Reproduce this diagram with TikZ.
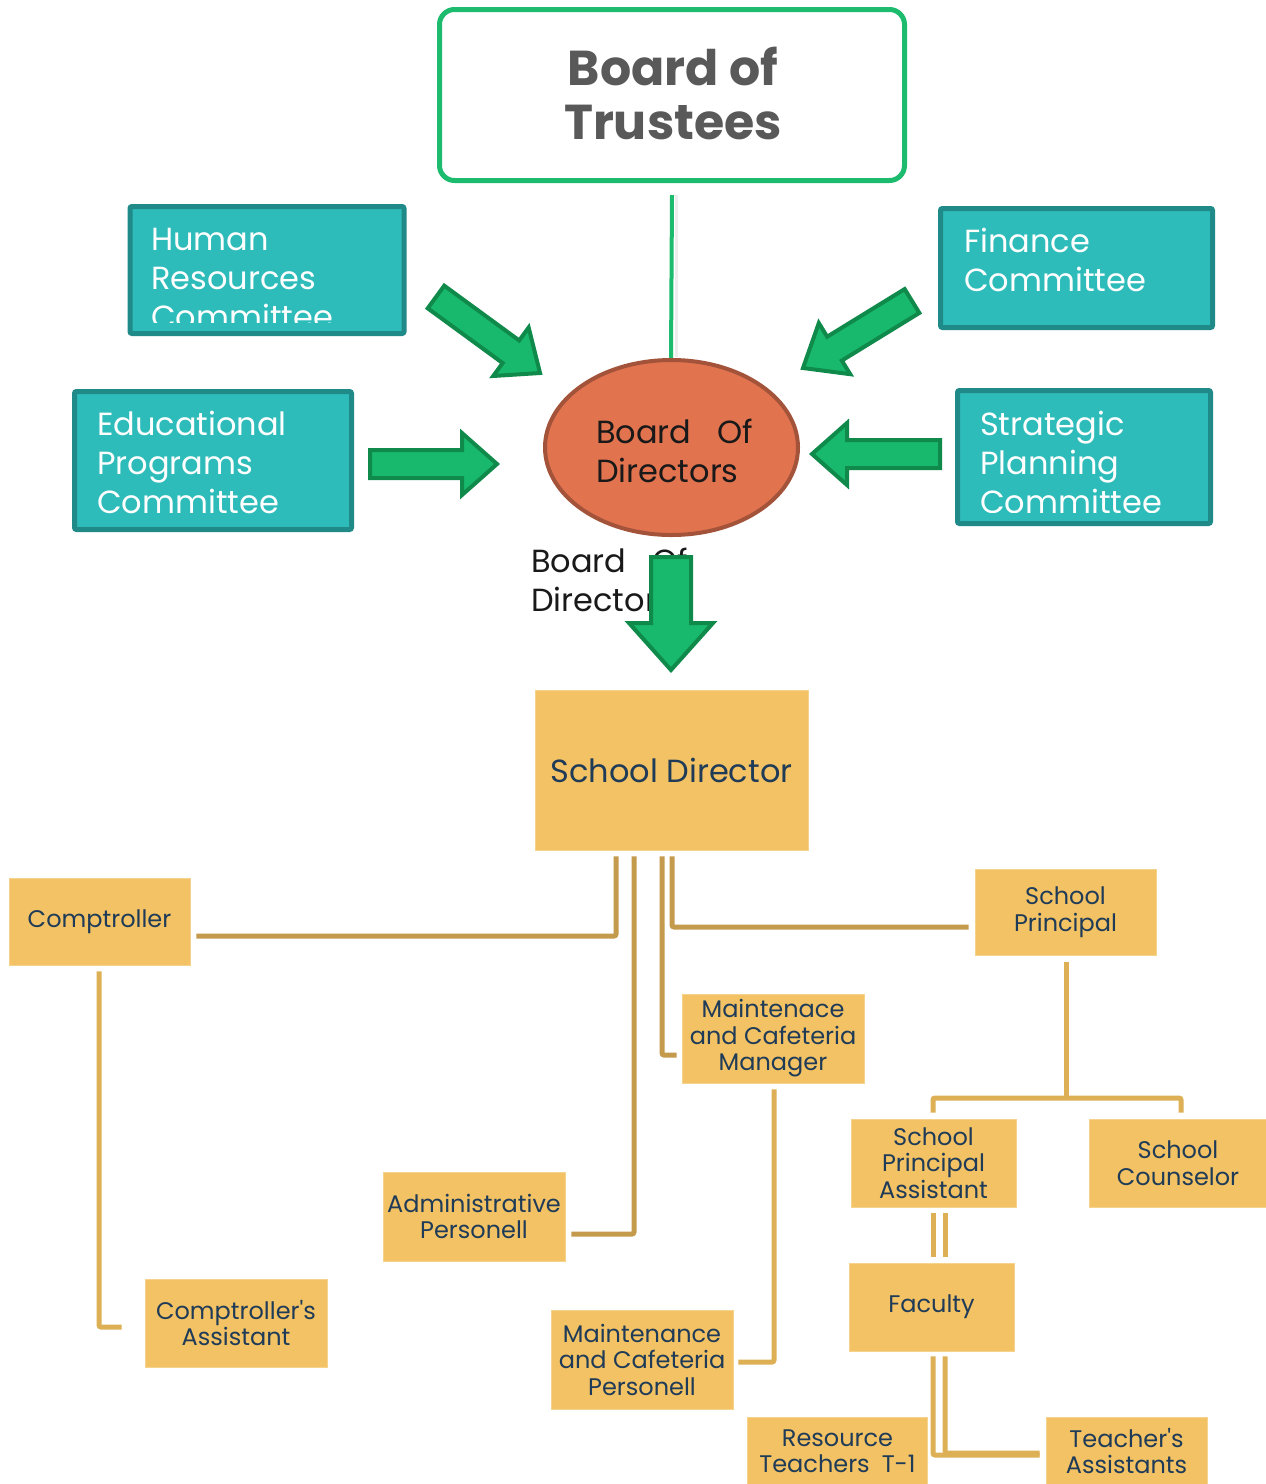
\documentclass[tikz,border=0pt]{standalone}
\usepackage{fontspec}
\setmainfont{Poppins}
\newfontfamily\popnomap{Poppins}
\usetikzlibrary{calc,shapes.geometric}
\definecolor{trgreen}{HTML}{1DBB6E}
\definecolor{trtext}{HTML}{595959}
\definecolor{tealfill}{HTML}{2EBCBA}
\definecolor{tealedge}{HTML}{1F8A88}
\definecolor{arrfill}{HTML}{18B96C}
\definecolor{arredge}{HTML}{0F8A4B}
\definecolor{ellfill}{HTML}{E2734F}
\definecolor{elledge}{HTML}{A3533A}
\definecolor{orfill}{HTML}{F2C264}
\definecolor{oredge}{HTML}{F6D38C}
\definecolor{navy}{HTML}{1F3B57}
\definecolor{condark}{HTML}{C49A4C}
\definecolor{conlight}{HTML}{DDB056}
\tikzset{
  combox/.style={draw=tealedge, fill=tealfill, line width=5pt, rounded corners=2pt},
  comtext/.style={anchor=base west, inner sep=0pt, text=white, align=left,
    font=\fontsize{32}{39}\selectfont},
  orbox/.style={rectangle, fill=orfill, draw=oredge, line width=0.8pt, inner sep=0pt,
    text=navy, align=center, font=\fontsize{24}{26.5}\selectfont},
  garrow/.style={draw=arredge, fill=arrfill, line width=4pt, line join=miter},
  conD/.style={draw=condark, line width=5pt, rounded corners=2pt},
  conL/.style={draw=conlight, line width=5pt, rounded corners=2pt},
}
\newcommand\blockarr[5]{%
  \coordinate (hb) at ($(#2)!#5!(#1)$);
  \draw[garrow] ($(#1)!#3!90:(#2)$) -- ($(hb)!#3!90:(#2)$) -- ($(hb)!#4!90:(#2)$)
    -- (#2) -- ($(hb)!#4!-90:(#2)$) -- ($(hb)!#3!-90:(#2)$) -- ($(#1)!#3!-90:(#2)$) -- cycle;
}
\newcommand\apos{{\popnomap\char"27}}
\begin{document}
\begin{tikzpicture}[x=1pt,y=-1pt]
\useasboundingbox (0,0) rectangle (1266,1484);
\fill[white] (0,0) rectangle (1266,1484);

% Board of Trustees
\node[draw=trgreen, line width=5pt, rounded corners=15pt, minimum width=465pt,
  minimum height=171pt, inner sep=0pt] (bot) at (672,95) {};
\node[inner sep=0pt, text=trtext, align=center, font=\fontsize{49}{54}\bfseries\selectfont]
  (bottext) at (673,93) {Board of\\Trustees};

% line to board of directors
\draw[black!7, line width=3pt] ([xshift=4pt,yshift=-12pt]bot.south) -- ++(0,162);
\draw[trgreen, line width=4pt] ([yshift=-12pt]bot.south) -- (671,360) coordinate (bodtop);

% Board of directors ellipse
\node[ellipse, draw=elledge, fill=ellfill, line width=4pt, minimum width=253pt,
  minimum height=175pt, inner sep=0pt] (bod) at (671.5,447.5) {};
\node[anchor=base west, inner sep=0pt, align=left, text=black!90,
  font=\fontsize{32}{39}\selectfont] (bodtext) at (596,482) {Board\hspace{0.8em}Of\\Directors};

% Committees
\node[combox, minimum width=274pt, minimum height=127pt, inner sep=0pt] (hr) at (267,270) {};
\begin{scope}
\clip (130,208) rectangle (403,322);
\node[comtext] (hrtext) at (151,328) {Human\\Resources\\Committee};
\end{scope}
\node[combox, minimum width=277pt, minimum height=138pt, inner sep=0pt] (edu) at (213,460.5) {};
\node[comtext] (edutext) at (97,513) {Educational\\Programs\\Committee};
\node[combox, minimum width=272pt, minimum height=119pt, inner sep=0pt] (fin) at (1076.5,268) {};
\node[comtext] (fintext) at (964,291) {Finance\\Committee};
\node[combox, minimum width=253pt, minimum height=133pt, inner sep=0pt] (str) at (1084,457) {};
\begin{scope}
\clip (958,392) rectangle (1209,512);
\node[comtext] (strtext) at (980,513) {Strategic\\Planning\\Committee};
\end{scope}

% Arrows to board of directors
\coordinate (hrT) at (436,297); \coordinate (hrP) at (540,373);
\blockarr{hrT}{hrP}{14pt}{30pt}{36pt}
\coordinate (finT) at (912,301); \coordinate (finP) at (803,368);
\blockarr{finT}{finP}{14pt}{30pt}{37pt}
\coordinate (eduT) at (370,464); \coordinate (eduP) at (497,464);
\blockarr{eduT}{eduP}{14pt}{31pt}{35pt}
\coordinate (strT) at (940,454); \coordinate (strP) at (812,454);
\blockarr{strT}{strP}{14pt}{31pt}{35pt}

% clipped label below ellipse
\begin{scope}
\clip (520,540) rectangle (690,625);
\node[anchor=base west, inner sep=0pt, align=left, text=black!90,
  font=\fontsize{32}{39}\selectfont] (bodlabel) at (531,611) {Board\hspace{0.8em}Of\\Directors};
\end{scope}
\coordinate (dnT) at (671,557); \coordinate (dnP) at (671,670);
\blockarr{dnT}{dnP}{20pt}{42pt}{47pt}

% School director and staff
\node[orbox, minimum width=273pt, minimum height=160pt, font=\fontsize{32}{36}\selectfont] (dir) at (671.5,770) {School Director};
\node[orbox, minimum width=181pt, minimum height=87pt] (comp) at (99.5,921.5) {Comptroller};
\node[orbox, minimum width=181pt, minimum height=86pt] (princ) at (1065.5,912) {School\\Principal};
\node[orbox, minimum width=182pt, minimum height=89pt] (mman) at (773,1038.5) {Maintenace\\and Cafeteria\\Manager};
\node[orbox, minimum width=182pt, minimum height=89pt] (admin) at (474,1216.5) {Administrative\\Personell};
\node[orbox, minimum width=182pt, minimum height=99pt] (mpers) at (642,1359.5) {Maintenance\\and Cafeteria\\Personell};
\node[orbox, minimum width=182pt, minimum height=88pt] (cas) at (236,1323) {Comptroller\apos s\\Assistant};
\node[orbox, minimum width=165pt, minimum height=88pt] (spa) at (933.5,1163) {School\\Principal\\Assistant};
\node[orbox, minimum width=178pt, minimum height=88pt] (cou) at (1178,1163) {School\\Counselor};
\node[orbox, minimum width=165pt, minimum height=88pt] (fac) at (931.5,1307) {Faculty};
\node[orbox, minimum width=180pt, minimum height=68pt] (res) at (837.5,1451) {Resource\\Teachers\hspace{0.5em}T-1};
\node[orbox, minimum width=161pt, minimum height=68pt] (tas) at (1126.5,1451) {Teacher\apos s\\Assistants};

% connectors from director
\draw[conD] ([xshift=-55.5pt,yshift=-6pt]dir.south) |- ([xshift=6pt,yshift=-14.5pt]comp.east);
\draw[conD] ([xshift=-37.5pt,yshift=-6pt]dir.south) |- ([xshift=6pt,yshift=-17.5pt]admin.east);
\draw[conD] ([xshift=-9.5pt,yshift=-6pt]dir.south) |- ([xshift=-5pt,yshift=-16.5pt]mman.west);
\draw[conD] ([xshift=0.5pt,yshift=-6pt]dir.south) |- ([xshift=-6pt,yshift=-15pt]princ.west);

% other connectors
\draw[conL] ([xshift=-0.5pt,yshift=-6pt]comp.south) |- ([xshift=-23pt,yshift=-4pt]cas.west);
\draw[conL] ([xshift=1pt,yshift=-6pt]mman.south) |- ([xshift=5pt,yshift=-2.5pt]mpers.east);
\draw[conL] ([xshift=0.5pt,yshift=-7pt]princ.south) -- (1066,1098) coordinate (junc);
\draw[conL] ([xshift=-0.5pt,yshift=6pt]spa.north) |- (junc) -| ([xshift=3pt,yshift=6pt]cou.north);
\draw[conL] ([xshift=-0.5pt,yshift=-6pt]spa.south) -- ([xshift=1.5pt,yshift=6pt]fac.north);
\draw[conL] ([xshift=11.5pt,yshift=-6pt]spa.south) -- ([xshift=13.5pt,yshift=6pt]fac.north);
\draw[conL] ([xshift=1.5pt,yshift=-5pt]fac.south) |- ([xshift=-6pt,yshift=-4pt]tas.west);
\draw[conL] ([xshift=13.5pt,yshift=-5pt]fac.south) |- ([xshift=-6pt,yshift=-2pt]tas.west);
\end{tikzpicture}
\end{document}
